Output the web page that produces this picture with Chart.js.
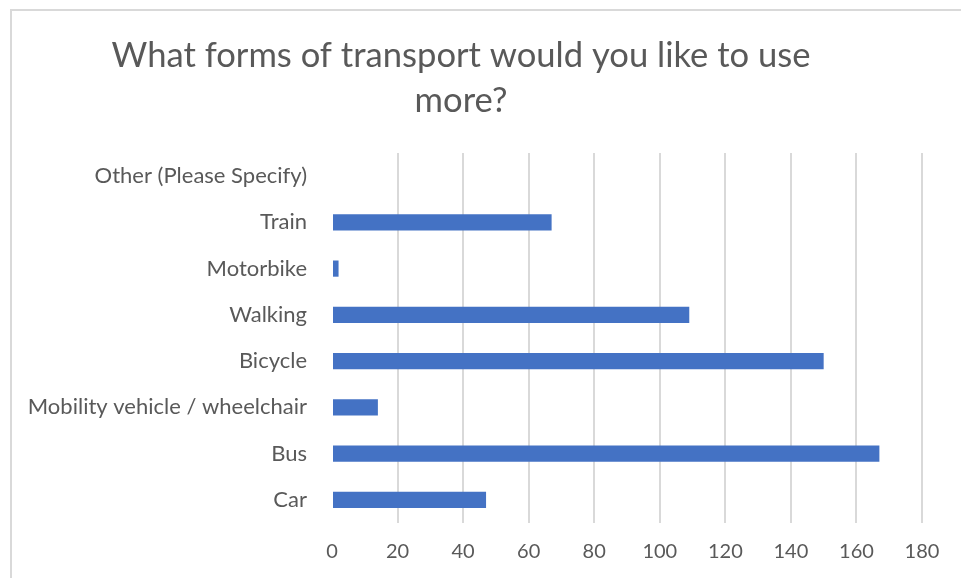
<!DOCTYPE html>
<html>
<head>
<meta charset="utf-8">
<script src="https://cdn.jsdelivr.net/npm/chart.js@4.4.1/dist/chart.umd.min.js"></script>
<style>
  html, body { margin: 0; padding: 0; background: #fff; overflow: hidden; }
  #frame {
    position: absolute; left: 10px; top: 9px; width: 1000px; height: 1000px;
    border-top: 2px solid #d9d9d9; border-left: 2px solid #d9d9d9;
  }
  #wrap { position: absolute; left: 0; top: 0; width: 961px; height: 578px; }
</style>
</head>
<body>
<div id="frame"></div>
<div id="wrap"><canvas id="chart" width="961" height="578"></canvas></div>
<script>
// categories top to bottom, as in the picture
const categories = [
    "Other (Please Specify)", "Train", "Motorbike", "Walking",
    "Bicycle", "Mobility vehicle / wheelchair", "Bus", "Car"
];
const responses = [0, 67, 2, 109, 150, 14, 167, 47];
const xTicks = [0, 20, 40, 60, 80, 100, 120, 140, 160, 180];
const titleLines = ["What forms of transport would you like to use", "more?"];

const FONT = "Lato, 'Open Sans', sans-serif";
const GREY = "#595959";

new Chart(document.getElementById("chart"), {
    type: "bar",
    data: {
        labels: categories,
        datasets: [{
            label: "Responses",
            data: responses,
            backgroundColor: "#4472C4",
            categoryPercentage: 1,
            barPercentage: 0.35
        }]
    },
    options: {
        indexAxis: "y",
        responsive: false,
        animation: false,
        layout: { padding: { left: 0, right: 39, top: 0, bottom: 0 } },
        plugins: {
            legend: { display: false },
            tooltip: { enabled: false },
            title: {
                display: true,
                text: titleLines,
                color: GREY,
                font: { family: FONT, size: 34.6, weight: "normal", lineHeight: 1.3 },
                padding: { top: 33, bottom: 30 }
            }
        },
        scales: {
            x: {
                min: 0, max: 180,
                afterBuildTicks: function (axis) { axis.ticks = xTicks.map(v => ({ value: v })); },
                afterFit: function (axis) { axis.height = 55; },
                border: { display: false },
                grid: {
                    drawTicks: false,
                    lineWidth: 2,
                    color: ctx => (ctx.tick && ctx.tick.value === 0 ? "rgba(0,0,0,0)" : "#d9d9d9")
                },
                ticks: { color: GREY, padding: 17, font: { family: FONT, size: 20 } }
            },
            y: {
                afterFit: function (axis) { axis.width = 332; },
                border: { display: false },
                grid: { display: false },
                ticks: { color: GREY, padding: 17, font: { family: FONT, size: 22 } }
            }
        }
    }
});
</script>
</body>
</html>
